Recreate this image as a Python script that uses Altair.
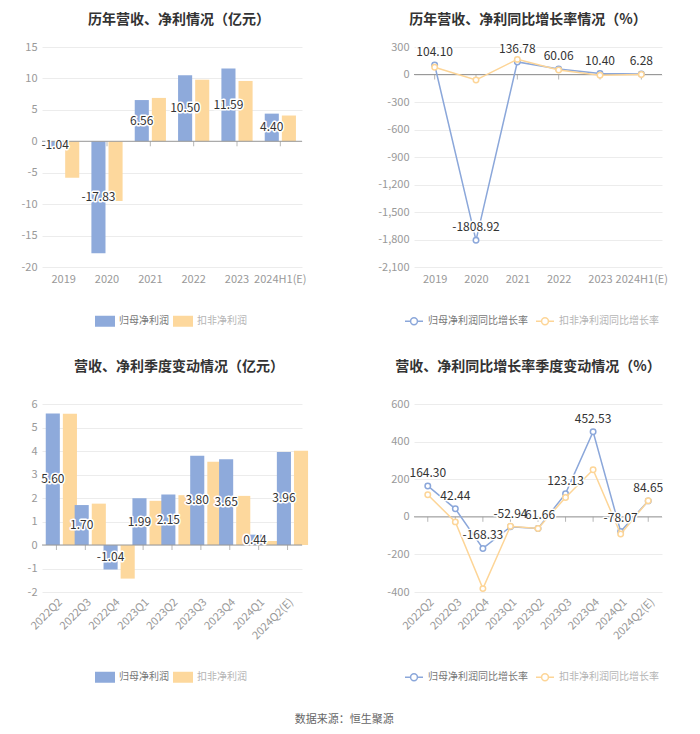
import altair as alt
import pandas as pd

# ---------------- data ----------------
years = ["2019", "2020", "2021", "2022", "2023", "2024H1(E)"]
np_parent = [-1.04, -17.83, 6.56, 10.50, 11.59, 4.40]
np_deduct = [-5.8, -9.5, 6.9, 9.8, 9.6, 4.1]
yoy_parent = [104.10, -1808.92, 136.78, 60.06, 10.40, 6.28]
yoy_deduct = [80, -60, 165, 50, -8, -1]

quarters = ["2022Q2", "2022Q3", "2022Q4", "2023Q1", "2023Q2", "2023Q3", "2023Q4", "2024Q1", "2024Q2(E)"]
q_parent = [5.60, 1.70, -1.04, 1.99, 2.15, 3.80, 3.65, 0.44, 3.96]
q_deduct = [5.58, 1.76, -1.43, 1.88, 2.12, 3.54, 2.09, 0.17, 4.01]
q_yoy_parent = [164.30, 42.44, -168.33, -52.94, -61.66, 123.13, 452.53, -78.07, 84.65]
q_yoy_deduct = [117, -27, -382, -50, -62, 103, 250, -92, 85]

bar_series = ["归母净利润", "扣非净利润"]
line_series = ["归母净利润同比增长率", "扣非净利润同比增长率"]

titles = ["历年营收、净利情况（亿元）", "历年营收、净利同比增长率情况（%）",
          "营收、净利季度变动情况（亿元）", "营收、净利同比增长率季度变动情况（%）"]
source = "数据来源：恒生聚源"

FONT = "Noto Sans CJK SC"
BLUE = "#8eaadb"
ORANGE = "#fdd89d"
LBLUE = "#8ba7da"
LORANGE = "#fdd597"
RECT = "M-1,-0.55L1,-0.55L1,0.55L-1,0.55Z"
LINESYM = ("M-1,0L-0.38,0M0.38,0L1,0M0.38,0A0.38,0.38,0,1,1,-0.38,0"
           "A0.38,0.38,0,1,1,0.38,0")
YLABEL = "replace(format(datum.value, ','), '\u2212', '-')"


def make_df(cats, a, b, names):
    rows = []
    for c, va, vb in zip(cats, a, b):
        rows.append({"cat": c, "series": names[0], "value": va, "label": f"{va:.2f}"})
        rows.append({"cat": c, "series": names[1], "value": vb, "label": ""})
    return pd.DataFrame(rows)


def legend(lx, ly, sym, size, second, colpad):
    return alt.Legend(
        title=None, orient="none", legendX=lx, legendY=ly, direction="horizontal",
        symbolType=sym, symbolSize=size, symbolStrokeWidth=1.5 if sym == LINESYM else 0,
        symbolFillColor="white", labelFontSize=10, labelFont=FONT,
        labelColor=alt.ExprRef(f"datum.label == '{second}' ? '#b5b5b5' : '#777777'"),
        columnPadding=colpad, labelOffset=4, padding=0,
    )


def halo_text(base, **kw):
    back = base.mark_text(font=FONT, fontSize=12, stroke="white", strokeWidth=3,
                          strokeJoin="round", color="white", **kw)
    front = base.mark_text(font=FONT, fontSize=12, color="#333333", **kw)
    return back + front


def x_axis(rotate):
    if rotate:
        return alt.Axis(labelAngle=-45, labelPadding=4, labelFontSize=11,
                        labelAlign="right", labelBaseline="top")
    return alt.Axis(labelAngle=0, labelPadding=6, labelFontSize=11,
                    labelAlign="center", labelBaseline="top")


def make_y(field, ymin, ymax, step):
    vals = list(range(ymin, ymax + 1, step))
    return alt.Y(field, title=None,
                 scale=alt.Scale(domain=[ymin, ymax], nice=False, zero=False),
                 axis=alt.Axis(values=vals, labelExpr=YLABEL, labelPadding=5,
                               labelOverlap=False, tickCount=len(vals)))


def common(cats, xscale, rotate, ymin, ymax, step):
    x = alt.X("cat:N", sort=cats, title=None, axis=x_axis(rotate), scale=xscale)
    zdf = pd.DataFrame({"cat": cats, "value": [0] * len(cats)})
    ticks = alt.Chart(zdf).mark_point(
        shape="M0,0L0,1", size=100, stroke="#999999", strokeWidth=1, filled=False
    ).encode(x=x, y=make_y("value:Q", ymin, ymax, step))
    zero = alt.Chart(zdf.head(1)).mark_rule(color="#999999", strokeWidth=1).encode(
        y=make_y("value:Q", ymin, ymax, step))
    return x, ticks, zero


def panel_title(title, tdx, toff):
    return alt.Title(title, fontSize=14, fontWeight="bold", color="#333333", font=FONT,
                     anchor="middle", offset=toff, dx=tdx)


def bar_panel(cats, a, b, ymin, ymax, step, w, h, title, tdx, toff, rotate, lx, ly, pin, oin):
    df = make_df(cats, a, b, bar_series)
    x, ticks, zero = common(cats, alt.Scale(paddingInner=pin, paddingOuter=pin / 2),
                            rotate, ymin, ymax, step)
    xo = alt.XOffset("series:N", sort=bar_series,
                     scale=alt.Scale(domain=bar_series, paddingInner=oin))
    base = alt.Chart(df)
    bars = base.mark_bar().encode(
        x=x, xOffset=xo, y=make_y("value:Q", ymin, ymax, step),
        color=alt.Color("series:N", sort=bar_series,
                        scale=alt.Scale(domain=bar_series, range=[BLUE, ORANGE]),
                        legend=legend(lx, ly, RECT, 400, bar_series[1], 4)),
    )
    lab_base = base.transform_filter(alt.datum.series == bar_series[0]).transform_calculate(
        mid="datum.value / 2").encode(
        x=x, xOffset=xo, y=make_y("mid:Q", ymin, ymax, step), text="label:N")
    labels = halo_text(lab_base, baseline="middle", align="center")
    return alt.layer(ticks, bars, zero, labels).properties(
        width=w, height=h, title=panel_title(title, tdx, toff))


def line_panel(cats, a, b, ymin, ymax, step, w, h, title, tdx, toff, rotate, lx, ly):
    df = make_df(cats, a, b, line_series)
    x, ticks, zero = common(cats, alt.Scale(padding=0.5), rotate, ymin, ymax, step)
    y = make_y("value:Q", ymin, ymax, step)
    color = alt.Color("series:N", sort=line_series,
                      scale=alt.Scale(domain=line_series, range=[LBLUE, LORANGE]),
                      legend=legend(lx, ly, LINESYM, 324, line_series[1], 5))
    base = alt.Chart(df)
    layers = [ticks, zero]
    for s in line_series:
        sub = base.transform_filter(alt.datum.series == s)
        layers.append(sub.mark_line(strokeWidth=1.5).encode(x=x, y=y, color=color))
        layers.append(sub.mark_point(shape="circle", size=30, filled=False, fill="white",
                                     strokeWidth=1.5, opacity=1).encode(x=x, y=y, color=color))
    lab_base = base.transform_filter(alt.datum.series == line_series[0]).encode(
        x=x, y=y, text="label:N")
    layers.append(halo_text(lab_base, baseline="bottom", align="center", dy=-6))
    return alt.layer(*layers).properties(
        width=w, height=h, title=panel_title(title, tdx, toff))


tl = bar_panel(years, np_parent, np_deduct, -20, 15, 5, 260, 220, titles[0], 7, 14, False,
               53, 264, 0.28, 0.176)
tr = line_panel(years, yoy_parent, yoy_deduct, -2100, 300, 300, 248, 220, titles[1], -10, 14,
                False, -10, 264)
bl = bar_panel(quarters, q_parent, q_deduct, -2, 6, 1, 260, 188, titles[2], 7, 24, True,
               53, 263, 0.26, 0.14)
br = line_panel(quarters, q_yoy_parent, q_yoy_deduct, -400, 600, 200, 248, 188, titles[3], -10,
                24, True, -10, 263)

chart = alt.concat(
    tl, tr, bl, br, columns=2, spacing={"row": 137, "column": 112}, bounds="flush"
).resolve_scale(color="independent").resolve_legend(color="independent").properties(
    title=alt.Title(source, orient="bottom", anchor="middle", fontSize=11, fontWeight="normal",
                    color="#666666", font=FONT, offset=30),
    padding={"left": 12, "top": 5, "right": 0, "bottom": 0},
).configure_view(stroke=None).configure_axis(
    labelFont=FONT, labelColor="#999999", labelFontSize=11, domain=False, ticks=False,
    gridColor="#ececec",
).configure_axisX(grid=False).configure_axisY(grid=True)

chart.save("out.html", embed_options={"renderer": "svg", "actions": False})
